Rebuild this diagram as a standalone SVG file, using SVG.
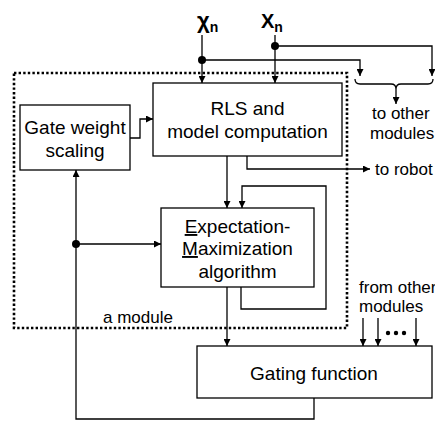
<svg xmlns="http://www.w3.org/2000/svg" width="435" height="421" viewBox="0 0 435 421">
<defs>
<marker id="ah" viewBox="0 0 10 10" refX="10" refY="5" markerWidth="7" markerHeight="7" markerUnits="userSpaceOnUse" orient="auto"><path d="M0,0 L10,5 L0,10 z" fill="#000"/></marker>
</defs>
<style>
.box{fill:#fff;stroke:#000;stroke-width:1.3}
.ln{fill:none;stroke:#000;stroke-width:1.3}
.ar{fill:none;stroke:#000;stroke-width:1.3;marker-end:url(#ah)}
.t{font-family:"Liberation Sans",Arial,sans-serif;font-size:19px;fill:#000}
.s{font-family:"Liberation Sans",Arial,sans-serif;font-size:17px;fill:#000}
.b{font-family:"Liberation Sans",Arial,sans-serif;font-weight:bold;fill:#000}
</style>
<rect width="435" height="421" fill="#fff"/>
<g id="module-border">
<rect x="14" y="73" width="333" height="255" fill="none" stroke="#000" stroke-width="2.6" stroke-dasharray="2.4 2.2"/>
<text class="s" x="103" y="323">a module</text>
</g>
<g id="connectors">
<path class="ar" d="M202,35 V83"/>
<path class="ar" d="M275,35 V83"/>
<path class="ar" d="M202,60 H360 V76"/>
<path class="ar" d="M275,46 H432 V76"/>
<path class="ln" d="M355,79 Q355,84 360,84 L391,84 Q396,84 396,89 Q396,84 401,84 L428,84 Q433,84 433,79"/>
<path class="ar" d="M396,89 V104"/>
<path class="ar" d="M130,138 H140 V119 H153"/>
<path class="ar" d="M227,156 V208"/>
<path class="ar" d="M247,156 V169 H370"/>
<path class="ar" d="M241,287 V309 H326 V186 H242 V208"/>
<path class="ar" d="M227,287 V346"/>
<path class="ar" d="M314,398 V419 H76 V170"/>
<path class="ar" d="M76,244 H161"/>
<path class="ar" d="M363,318 V346"/>
<path class="ar" d="M378,318 V346"/>
<path class="ar" d="M416,318 V346"/>
<circle cx="202" cy="60" r="4"/>
<circle cx="275" cy="46" r="4"/>
<circle cx="76" cy="244" r="4"/>
<circle cx="388" cy="333" r="2.2"/>
<circle cx="396" cy="333" r="2.2"/>
<circle cx="404" cy="333" r="2.2"/>
</g>
<g id="inputs">
<text class="b" x="197" y="28" font-size="22">χ<tspan font-size="14" dy="4">n</tspan></text>
<text class="b" x="261" y="28" font-size="20">X<tspan font-size="14" dy="4">n</tspan></text>
</g>
<g id="rls">
<rect class="box" x="153" y="83" width="189" height="73"/>
<text class="t" x="247.5" y="115" text-anchor="middle">RLS and</text>
<text class="t" x="247.5" y="138" text-anchor="middle">model computation</text>
</g>
<g id="gate-weight">
<rect class="box" x="20" y="105" width="110" height="65"/>
<text class="t" x="75" y="134" text-anchor="middle">Gate weight</text>
<text class="t" x="75" y="157" text-anchor="middle">scaling</text>
</g>
<g id="em">
<rect class="box" x="161" y="208" width="153" height="79"/>
<text class="t" x="237.5" y="233" text-anchor="middle"><tspan text-decoration="underline">E</tspan>xpectation-</text>
<text class="t" x="237.5" y="255" text-anchor="middle"><tspan text-decoration="underline">M</tspan>aximization</text>
<text class="t" x="237.5" y="278" text-anchor="middle">algorithm</text>
</g>
<g id="gating">
<rect class="box" x="197" y="346" width="235" height="52"/>
<text class="t" x="314" y="380" text-anchor="middle">Gating function</text>
</g>
<g id="labels">
<text class="s" x="372" y="119">to other</text>
<text class="s" x="370" y="139">modules</text>
<text class="s" x="375" y="175">to robot</text>
<text class="s" x="359" y="293">from other</text>
<text class="s" x="359" y="312">modules</text>
</g>
</svg>
